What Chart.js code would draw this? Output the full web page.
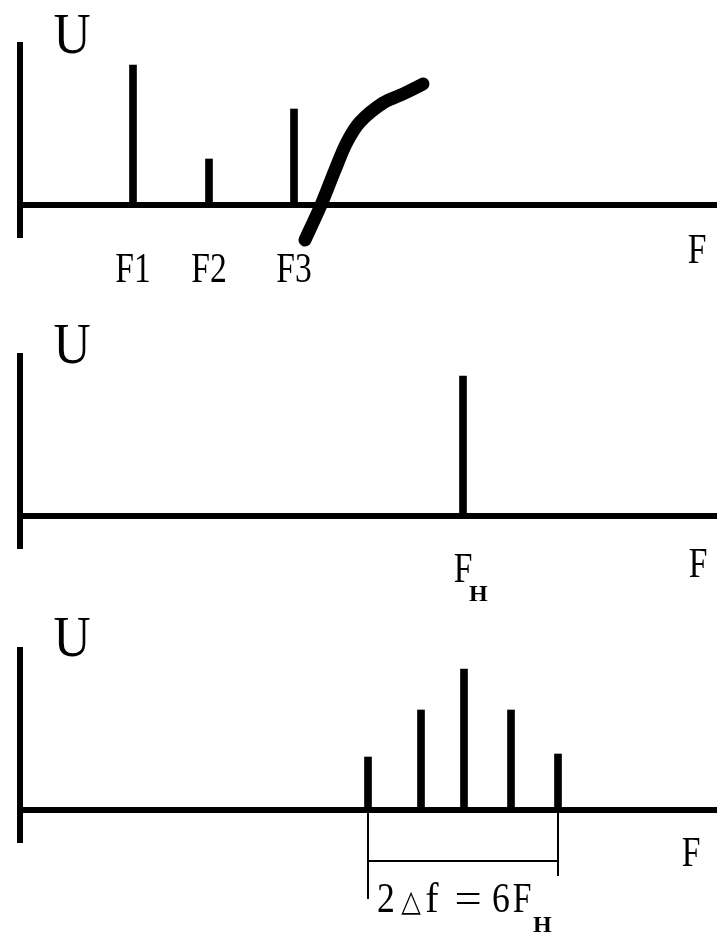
<!DOCTYPE html>
<html>
<head>
<meta charset="utf-8">
<script src="https://cdn.jsdelivr.net/npm/chart.js@4.4.0/dist/chart.umd.min.js"></script>
<style>
body { margin: 0; background: #fff; width: 717px; height: 935px; position: relative; overflow: hidden; }
.panel { position: absolute; left: 0; width: 717px; }
canvas { display: block; }
</style>
</head>
<body>
<div class="panel" style="top:0"><canvas id="chart1" width="717" height="300"></canvas></div>
<div class="panel" style="top:300px"><canvas id="chart2" width="717" height="305"></canvas></div>
<div class="panel" style="top:605px"><canvas id="chart3" width="717" height="330"></canvas></div>
<script>
// axis ranges (units, roughly 1 unit = 1 px)
const xMax = 697;
const yMin = -32, yMax = 160;

// top: low-frequency components F1 F2 F3
const lowLabels = ['F1', 'F2', 'F3'];
const lowX = [113, 189, 274];
const lowU = [140, 46, 96];
// the thick hand-drawn curve in the top panel
const curveX = [285, 301, 315, 327, 340, 363, 383, 403];
const curveU = [-35, 0, 35, 63, 83, 102, 111, 121];

// middle: carrier F_H
const carrierX = [443];
const carrierU = [140];

// bottom: carrier with sidebands
const sideX = [348, 401, 444, 491, 538];
const sideU = [53, 100, 141, 100, 56];
// bandwidth bracket under the sidebands
const bracketX = [348, 348, null, 348, 538, null, 538, 538];
const bracketU = [0, -89, null, -51, -51, null, 0, -66];

const toPoints = (xs, ys) => xs.map((x, i) => ({ x: x, y: ys[i] }));

// draws the text (U, F, tick labels) at scale positions
function textPlugin(items) {
    return {
        id: 'spectrumText',
        afterDraw(chart) {
            const ctx = chart.ctx;
            const xs = chart.scales.x, ys = chart.scales.y;
            ctx.save();
            ctx.fillStyle = '#000';
            ctx.textBaseline = 'alphabetic';
            items.forEach(t => {
                ctx.save();
                ctx.translate(xs.getPixelForValue(t.x), ys.getPixelForValue(t.y));
                ctx.scale(t.sx || 1, 1);
                ctx.font = t.font;
                ctx.textAlign = t.align || 'center';
                ctx.fillText(t.text, 0, 0);
                ctx.restore();
            });
            ctx.restore();
        }
    };
}

const bigFont = '56px "Liberation Serif"';
const labFont = '42px "Liberation Serif"';
const subFont = 'bold 24px "Liberation Serif"';

function barSet(xs, ys) {
    return {
        type: 'bar',
        data: toPoints(xs, ys),
        backgroundColor: '#000',
        borderWidth: 0,
        barThickness: 7,
        grouped: false
    };
}

function makeChart(id, pad, datasets, texts) {
    return new Chart(document.getElementById(id).getContext('2d'), {
        type: 'bar',
        data: { datasets: datasets },
        options: {
            responsive: false,
            animation: false,
            devicePixelRatio: 1,
            layout: { padding: { top: pad[0], bottom: pad[1], left: 20, right: 0 } },
            scales: {
                x: {
                    type: 'linear',
                    min: 0,
                    max: xMax,
                    offset: false,
                    position: { y: 0 },
                    grid: { display: false },
                    ticks: { display: false },
                    border: { display: true, color: '#000', width: 6 }
                },
                y: {
                    type: 'linear',
                    min: yMin,
                    max: yMax,
                    position: { x: 0 },
                    grid: { display: false },
                    ticks: { display: false },
                    border: { display: true, color: '#000', width: 6 }
                }
            },
            plugins: {
                legend: { display: false },
                tooltip: { enabled: false }
            }
        },
        plugins: [textPlugin(texts)]
    });
}

// top panel
makeChart('chart1', [45, 63], [
    barSet(lowX, lowU),
    {
        type: 'line',
        data: toPoints(curveX, curveU),
        borderColor: '#000',
        borderWidth: 13,
        borderCapStyle: 'round',
        tension: 0.35,
        pointRadius: 0,
        clip: false
    }
], [
    { text: 'U', x: 52, y: 152, font: bigFont, sx: 0.92 },
    ...lowLabels.map((s, i) => ({ text: s, x: lowX[i], y: -77, font: labFont, sx: 0.8 })),
    { text: 'F', x: 677, y: -58, font: labFont, sx: 0.8 }
]);

// middle panel
makeChart('chart2', [56, 57], [
    barSet(carrierX, carrierU)
], [
    { text: 'U', x: 52, y: 153, font: bigFont, sx: 0.92 },
    { text: 'F', x: carrierX[0], y: -66, font: labFont, sx: 0.8 },
    { text: 'H', x: carrierX[0] + 6, y: -85, font: subFont, align: 'left' },
    { text: 'F', x: 678, y: -61, font: labFont, sx: 0.8 }
]);

// bottom panel: "2 △f = 6F_H" set glyph by glyph like the original
makeChart('chart3', [45, 93], [
    barSet(sideX, sideU),
    {
        type: 'line',
        data: toPoints(bracketX, bracketU),
        borderColor: '#000',
        borderWidth: 2,
        tension: 0,
        pointRadius: 0,
        spanGaps: false,
        clip: false
    }
], [
    { text: 'U', x: 52, y: 154, font: bigFont, sx: 0.92 },
    { text: '2', x: 366, y: -102, font: labFont, sx: 0.85 },
    { text: '\u25B3', x: 391, y: -101, font: '30px "DejaVu Sans"', sx: 0.85 },
    { text: 'f', x: 412, y: -102, font: labFont, sx: 0.95 },
    { text: '=', x: 448, y: -102, font: labFont, sx: 1.15 },
    { text: '6', x: 481, y: -102, font: labFont, sx: 0.85 },
    { text: 'F', x: 502, y: -102, font: labFont, sx: 0.8 },
    { text: 'H', x: 513, y: -122, font: subFont, align: 'left' },
    { text: 'F', x: 671, y: -56, font: labFont, sx: 0.8 }
]);
</script>
</body>
</html>
